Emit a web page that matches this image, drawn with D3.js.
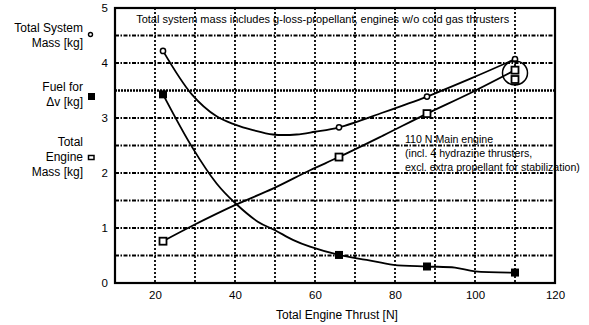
<!DOCTYPE html>
<html>
<head>
<meta charset="utf-8">
<script src="https://cdn.jsdelivr.net/npm/d3@7"></script>
<style>
body { margin:0; background:#fff; }
text { font-family: "Liberation Sans", Arial, sans-serif; fill:#000; }
</style>
</head>
<body>
<div id="chart"></div>
<script>
// marker values
var thrust = [22, 66, 88, 110];
var systemMass = [4.22, 2.83, 3.39, 4.07];
var fuelMass = [3.43, 0.51, 0.30, 0.19];
var engineMass = [0.76, 2.29, 3.08, 3.87];
var mainEngineThrust = [110];
var mainEngineMass = [3.70];

// hand drawn curves
var systemCurveX = [22, 29.2, 35.4, 40, 44.5, 49.5, 55.4, 60, 66, 77, 88, 99, 110];
var systemCurveY = [4.22, 3.43, 3.03, 2.88, 2.78, 2.70, 2.70, 2.75, 2.83, 3.10, 3.39, 3.72, 4.07];
var fuelCurveX = [22, 29.2, 35.4, 40.1, 45.8, 50, 54.6, 58.75, 66, 72.9, 79.6, 88, 95, 100, 110];
var fuelCurveY = [3.43, 2.48, 1.81, 1.45, 1.11, 0.96, 0.78, 0.66, 0.51, 0.42, 0.33, 0.30, 0.28, 0.21, 0.19];
var engineCurveX = [22, 29.6, 40.1, 49.6, 58.75, 66, 77, 88, 99, 110];
var engineCurveY = [0.76, 1.05, 1.42, 1.72, 2.05, 2.29, 2.68, 3.08, 3.46, 3.87];

var xTicks = [20, 40, 60, 80, 100, 120];
var yTicks = [0, 1, 2, 3, 4, 5];
var xGrid = [20, 30, 40, 50, 60, 70, 80, 90, 100, 110];
var yGrid = [0.5, 1, 1.5, 2, 2.5, 3, 4, 4.5];
var yGridSpecial = [3.5];

var svgwidth = 589;
var svgheight = 325;
var margin = {top: 8, right: 34, bottom: 42, left: 115};
var width = svgwidth - margin.left - margin.right;
var height = svgheight - margin.top - margin.bottom;

var svg = d3.select("#chart").append("svg")
    .attr("width", svgwidth)
    .attr("height", svgheight);

var chart = svg.append("g").attr("transform", `translate(${margin.left}, ${margin.top})`);

var x = d3.scaleLinear().domain([10, 120]).range([0, width]);
var y = d3.scaleLinear().domain([0, 5]).range([height, 0]);

// note text (gridlines go over it)
chart.append("text")
    .attr("x", x(15.3)).attr("y", y(4.72))
    .style("font-size", "11px")
    .text("Total system mass includes g-loss-propellant, engines w/o cold gas thrusters");

var noteLines = ["110 N Main engine", "(incl. 4 hydrazine thrusters,", " excl. extra propellant for stabilization)"];
chart.selectAll(".note2").data(noteLines).enter().append("text")
    .attr("x", function(d, i) { return x(82.5) + (i == 2 ? -3 : 0); })
    .attr("y", function(d, i) { return y(2.55) + i * 14; })
    .attr("xml:space", "preserve")
    .style("font-size", "10.6px")
    .text(function(d) { return d; });

// grid
chart.selectAll(".vgrid").data(xGrid).enter().append("line")
    .attr("x1", function(d) { return x(d); }).attr("x2", function(d) { return x(d); })
    .attr("y1", 0).attr("y2", height)
    .attr("stroke", "#000").attr("stroke-width", 1.8)
    .attr("stroke-dasharray", "2,2");

chart.selectAll(".hgrid").data(yGrid).enter().append("line")
    .attr("x1", 0).attr("x2", width)
    .attr("y1", function(d) { return y(d); }).attr("y2", function(d) { return y(d); })
    .attr("stroke", "#000").attr("stroke-width", 1.8)
    .attr("stroke-dasharray", "4,1.5,1.5,1.5");

chart.selectAll(".hgrid2").data(yGridSpecial).enter().append("line")
    .attr("x1", 0).attr("x2", width)
    .attr("y1", function(d) { return y(d); }).attr("y2", function(d) { return y(d); })
    .attr("stroke", "#000").attr("stroke-width", 2.4)
    .attr("stroke-dasharray", "2,1");

// frame
chart.append("rect")
    .attr("x", 0).attr("y", 0).attr("width", width).attr("height", height)
    .attr("fill", "none").attr("stroke", "#000").attr("stroke-width", 2.2);

// axes
var bottomaxis = d3.axisBottom(x).tickValues(xTicks).tickSize(0).tickPadding(8);
var leftaxis = d3.axisLeft(y).tickValues(yTicks).tickFormat(d3.format("d")).tickSize(0).tickPadding(7);

var xg = chart.append("g").attr("transform", `translate(0, ${height})`).call(bottomaxis);
var yg = chart.append("g").call(leftaxis);
xg.select(".domain").remove();
yg.select(".domain").remove();
svg.selectAll(".tick text").style("font-size", "11.5px").style("font-family", "Liberation Sans, Arial, sans-serif");

chart.append("text")
    .attr("x", x(65.5)).attr("y", height + 36)
    .attr("text-anchor", "middle")
    .style("font-size", "12px")
    .text("Total Engine Thrust [N]");

// lines
var line = d3.line()
    .x(function(d) { return x(d[0]); })
    .y(function(d) { return y(d[1]); })
    .curve(d3.curveCatmullRom);

var curves = [d3.zip(systemCurveX, systemCurveY), d3.zip(fuelCurveX, fuelCurveY), d3.zip(engineCurveX, engineCurveY)];
chart.selectAll(".curve").data(curves).enter().append("path")
    .attr("d", line)
    .attr("fill", "none").attr("stroke", "#000").attr("stroke-width", 1.8);

// markers
chart.selectAll(".sys").data(d3.zip(thrust, systemMass)).enter().append("circle")
    .attr("cx", function(d) { return x(d[0]); })
    .attr("cy", function(d) { return y(d[1]); })
    .attr("r", 2.6)
    .attr("fill", "#fff").attr("stroke", "#000").attr("stroke-width", 1.5);

chart.selectAll(".fuel").data(d3.zip(thrust, fuelMass)).enter().append("rect")
    .attr("x", function(d) { return x(d[0]) - 4; })
    .attr("y", function(d) { return y(d[1]) - 4; })
    .attr("width", 8).attr("height", 8)
    .attr("fill", "#000");

chart.selectAll(".eng").data(d3.zip(thrust, engineMass).concat(d3.zip(mainEngineThrust, mainEngineMass))).enter().append("rect")
    .attr("x", function(d) { return x(d[0]) - 3.5; })
    .attr("y", function(d) { return y(d[1]) - 3.5; })
    .attr("width", 7).attr("height", 7)
    .attr("fill", "#fff").attr("stroke", "#000").attr("stroke-width", 1.8);

// ring around the 110 N points
chart.append("ellipse")
    .attr("cx", x(110)).attr("cy", y(3.82))
    .attr("rx", 12.5).attr("ry", 12)
    .attr("fill", "none").attr("stroke", "#000").attr("stroke-width", 1.5);

// legend on the left
var legend = svg.append("g");
var legendText = [
    {t: "Total System", y: 32}, {t: "Mass [kg]", y: 47},
    {t: "Fuel for", y: 91}, {t: "\u0394v [kg]", y: 106},
    {t: "Total", y: 146}, {t: "Engine", y: 161}, {t: "Mass [kg]", y: 176}
];
legend.selectAll("text").data(legendText).enter().append("text")
    .attr("x", 83).attr("y", function(d) { return d.y; })
    .attr("text-anchor", "end")
    .style("font-size", "12px")
    .text(function(d) { return d.t; });

legend.append("circle").attr("cx", 90.5).attr("cy", 34.5).attr("r", 2)
    .attr("fill", "#fff").attr("stroke", "#000").attr("stroke-width", 1.4);
legend.append("rect").attr("x", 88).attr("y", 93).attr("width", 7).attr("height", 7).attr("fill", "#000");
legend.append("rect").attr("x", 88.5).attr("y", 155.5).attr("width", 5.5).attr("height", 4)
    .attr("fill", "#fff").attr("stroke", "#000").attr("stroke-width", 1.5);
</script>
</body>
</html>
